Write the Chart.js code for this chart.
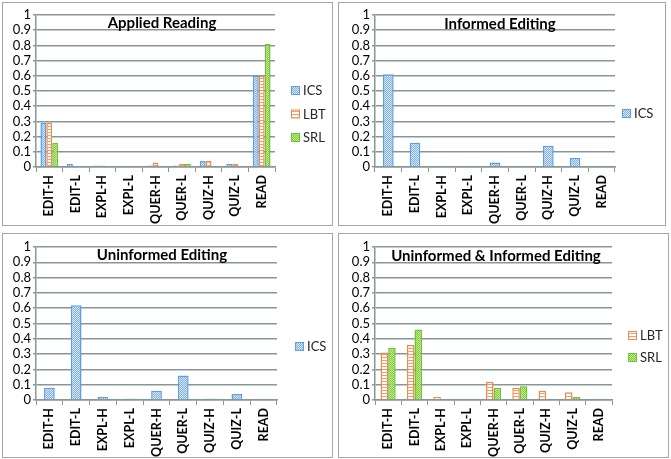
<!DOCTYPE html>
<html>
<head>
<meta charset="utf-8">
<script src="https://cdn.jsdelivr.net/npm/chart.js@4.4.1/dist/chart.umd.min.js"></script>
<style>
  body { margin: 0; background: #fff; width: 671px; height: 459px; position: relative; overflow: hidden; }
  .panel { position: absolute; border: 1px solid #a6a6a6; box-sizing: border-box; }
  .panel canvas { display: block; }
</style>
</head>
<body>
<div class="panel" id="p1"><canvas id="c1"></canvas></div>
<div class="panel" id="p2"><canvas id="c2"></canvas></div>
<div class="panel" id="p3"><canvas id="c3"></canvas></div>
<div class="panel" id="p4"><canvas id="c4"></canvas></div>
<script>
// categories and tick labels
const categories = ['EDIT-H', 'EDIT-L', 'EXPL-H', 'EXPL-L', 'QUER-H', 'QUER-L', 'QUIZ-H', 'QUIZ-L', 'READ'];
const yTickLabels = ['0', '0.1', '0.2', '0.3', '0.4', '0.5', '0.6', '0.7', '0.8', '0.9', '1'];

// Applied Reading
const readingICS = [0.29, 0.02, 0.01, 0, 0.01, 0.01, 0.04, 0.02, 0.60];
const readingLBT = [0.29, 0, 0.01, 0, 0.03, 0.02, 0.04, 0.02, 0.60];
const readingSRL = [0.16, 0, 0, 0, 0, 0.02, 0, 0, 0.81];

// Informed Editing
const informedICS = [0.61, 0.16, 0, 0, 0.03, 0, 0.14, 0.06, 0];

// Uninformed Editing
const uninformedICS = [0.08, 0.62, 0.02, 0.01, 0.06, 0.16, 0.01, 0.04, 0];

// Uninformed & Informed Editing
const bothLBT = [0.31, 0.36, 0.02, 0, 0.12, 0.08, 0.06, 0.05, 0];
const bothSRL = [0.34, 0.46, 0, 0, 0.08, 0.09, 0, 0.02, 0];

const FONT = 'Lato, "Open Sans", sans-serif';
const gridColor = '#879797';

// little fill patterns like the old excel ones
function makePattern(kind) {
    const t = document.createElement('canvas');
    const g = t.getContext('2d');
    if (kind === 'ICS') {
        t.width = 2; t.height = 2;
        g.fillStyle = '#dbe8f8'; g.fillRect(0, 0, 2, 2);
        g.fillStyle = '#7eaee6'; g.fillRect(0, 0, 1, 1); g.fillRect(1, 1, 1, 1);
    } else if (kind === 'LBT') {
        t.width = 3; t.height = 3;
        g.fillStyle = '#ffffff'; g.fillRect(0, 0, 3, 3);
        g.fillStyle = '#f39a66'; g.fillRect(0, 0, 3, 1);
    } else {
        t.width = 2; t.height = 2;
        g.fillStyle = '#7fcb35'; g.fillRect(0, 0, 2, 2);
        g.fillStyle = '#c2ec8e'; g.fillRect(0, 0, 1, 1); g.fillRect(1, 1, 1, 1);
    }
    return document.createElement('canvas').getContext('2d').createPattern(t, 'repeat');
}

const seriesStyle = {
    ICS: { border: '#5f9de0' },
    LBT: { border: '#f08a4b' },
    SRL: { border: '#72c03a' }
};

function ds(label, data) {
    return {
        label: label,
        data: data,
        backgroundColor: makePattern(label),
        borderColor: seriesStyle[label].border,
        borderWidth: 1.5,
        barPercentage: 1
    };
}

// title + legend drawn inside each panel
const panelDecor = {
    id: 'panelDecor',
    afterDraw(chart, args, opts) {
        const ctx = chart.ctx;
        ctx.save();
        ctx.font = 'bold 15px ' + FONT;
        ctx.fillStyle = '#000';
        ctx.textAlign = 'center';
        ctx.textBaseline = 'middle';
        ctx.fillText(opts.title, opts.titleX, opts.titleY);

        ctx.font = '13px ' + FONT;
        ctx.textAlign = 'left';
        chart.data.datasets.forEach((d, i) => {
            const y = opts.legendY + i * opts.legendGap;
            ctx.fillStyle = d.backgroundColor;
            ctx.fillRect(opts.legendX, y - 4, 8, 8);
            ctx.strokeStyle = d.borderColor;
            ctx.lineWidth = 1;
            ctx.strokeRect(opts.legendX + 0.5, y - 3.5, 8, 8);
            ctx.fillStyle = '#262626';
            ctx.fillText(d.label, opts.legendX + 12, y + 1);
        });
        ctx.restore();
    }
};

function makeChart(id, panelId, box, title, datasets, decor) {
    const panel = document.getElementById(panelId);
    panel.style.left = box.left + 'px';
    panel.style.top = box.top + 'px';
    panel.style.width = box.width + 'px';
    panel.style.height = box.height + 'px';
    const cw = box.width - 2, ch = box.height - 2;
    const canvas = document.getElementById(id);
    canvas.width = cw; canvas.height = ch;
    canvas.style.width = cw + 'px'; canvas.style.height = ch + 'px';

    // chart area in canvas coords
    const ox = box.left + 1, oy = box.top + 1;
    const aL = box.area[0] - ox, aT = box.area[1] - oy, aR = box.area[2] - ox, aB = box.area[3] - oy;
    const n = datasets.length;
    datasets.forEach(d => { d.categoryPercentage = n / (n + 1.5); });

    return new Chart(canvas, {
        type: 'bar',
        data: { labels: categories, datasets: datasets },
        options: {
            responsive: false,
            devicePixelRatio: 1,
            animation: false,
            layout: { padding: { left: 0, top: aT, right: cw - aR, bottom: 0 } },
            plugins: {
                legend: { display: false },
                tooltip: { enabled: false },
                panelDecor: Object.assign({ title: title }, decor)
            },
            scales: {
                x: {
                    afterFit(scale) { scale.height = ch - aB; },
                    grid: { display: true, drawOnChartArea: false, drawTicks: true, tickLength: 5, color: gridColor, lineWidth: 1 },
                    border: { display: true, color: gridColor, width: 1.5 },
                    ticks: {
                        autoSkip: false, maxRotation: 90, minRotation: 90, padding: 3,
                        color: '#000', font: { family: FONT, size: 12.5, weight: 'bold' }
                    }
                },
                y: {
                    min: 0, max: 1,
                    afterFit(scale) { scale.width = aL; },
                    grid: { color: gridColor, lineWidth: 1.5, tickLength: 3 },
                    border: { display: true, color: gridColor, width: 1.5 },
                    ticks: {
                        stepSize: 0.1, autoSkip: false, padding: 2, color: '#000',
                        font: { family: FONT, size: 13 },
                        callback: (v, i) => yTickLabels[i]
                    }
                }
            }
        },
        plugins: [panelDecor]
    });
}

makeChart('c1', 'p1', { left: 2, top: 2, width: 331, height: 224, area: [36, 15, 275, 167] },
    'Applied Reading',
    [ds('ICS', readingICS), ds('LBT', readingLBT), ds('SRL', readingSRL)],
    { titleX: 159, titleY: 20, legendX: 288, legendY: 87, legendGap: 23.5 });

makeChart('c2', 'p2', { left: 338, top: 2, width: 328, height: 224, area: [375, 15, 615, 167] },
    'Informed Editing',
    [ds('ICS', informedICS)],
    { titleX: 161, titleY: 21, legendX: 283, legendY: 110, legendGap: 23 });

makeChart('c3', 'p3', { left: 2, top: 233, width: 331, height: 225, area: [36, 247, 277, 400] },
    'Uninformed Editing',
    [ds('ICS', uninformedICS)],
    { titleX: 159, titleY: 21, legendX: 292, legendY: 112, legendGap: 23 });

makeChart('c4', 'p4', { left: 338, top: 233, width: 331, height: 225, area: [375, 247, 612, 400] },
    'Uninformed & Informed Editing',
    [ds('LBT', bothLBT), ds('SRL', bothSRL)],
    { titleX: 157, titleY: 22, legendX: 289, legendY: 101, legendGap: 22 });
</script>
</body>
</html>
